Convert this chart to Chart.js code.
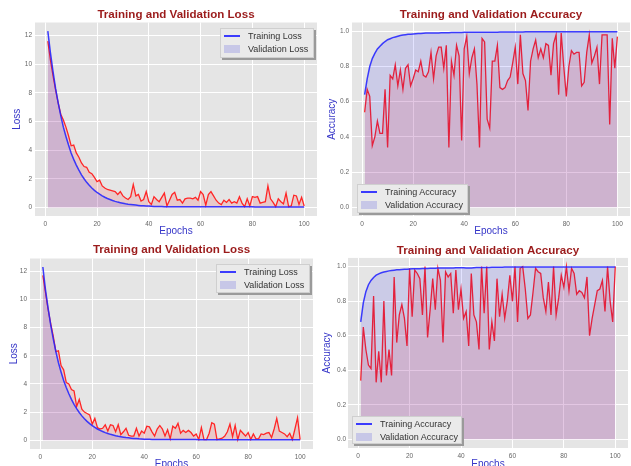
<!DOCTYPE html>
<html><head><meta charset="utf-8">
<script src="https://cdn.jsdelivr.net/npm/chart.js@4.4.0/dist/chart.umd.min.js"></script>
<style>
html,body{margin:0;padding:0;background:#fff;width:631px;height:466px;overflow:hidden;font-family:"Liberation Sans",Arial,sans-serif;}
.panel{position:absolute;overflow:hidden;background:#fff;}
.legend{position:absolute;background:#EAEAEA;border:1px solid #cfcfcf;box-shadow:2px 2px 0 #9a9a9a;font-size:9px;color:#333;box-sizing:border-box;}
.row{position:absolute;left:0;height:12px;line-height:12px;white-space:nowrap;}
.hline{position:absolute;left:3px;top:5px;width:16px;height:2px;background:rgba(40,40,255,0.9);}
.patch{position:absolute;left:3px;top:2px;width:16px;height:8px;background:rgba(120,120,225,0.3);}
.txt{position:absolute;left:27px;top:0;}
</style></head>
<body>
<script>
const epochs = Array.from({length:100},(_,i)=>i+1);
const xTicks = [0,20,40,60,80,100];
const xTickLabels = ['0','20','40','60','80','100'];
const lossTicks = [0,2,4,6,8,10,12];
const lossTickLabels = ['0','2','4','6','8','10','12'];
const accTicks = [0,0.2,0.4,0.6,0.8,1.0];
const accTickLabels = ['0.0','0.2','0.4','0.6','0.8','1.0'];

const trainLoss1 = [12.3,10.8,9.5,8.3,7.3,6.4,5.6,4.95,4.35,3.8,3.35,2.95,2.6,2.27,2.0,1.75,1.54,1.35,1.19,1.04,0.92,0.81,0.71,0.62,0.55,0.48,0.42,0.37,0.33,0.29,0.25,0.22,0.2,0.18,0.16,0.14,0.12,0.11,0.1,0.09,0.08,0.07,0.07,0.06,0.06,0.05,0.05,0.05,0.05,0.05,0.05,0.05,0.05,0.05,0.05,0.05,0.05,0.05,0.05,0.05,0.04,0.04,0.04,0.04,0.04,0.04,0.04,0.04,0.04,0.04,0.04,0.04,0.04,0.04,0.04,0.04,0.04,0.04,0.04,0.04,0.03,0.03,0.03,0.03,0.03,0.03,0.03,0.03,0.03,0.03,0.03,0.03,0.03,0.03,0.03,0.03,0.03,0.03,0.03,0.03];
const valLoss1 = [11.6,10.3,9.2,8.2,7.3,6.5,6.1,5.6,5.0,4.3,4.35,3.8,3.5,3.1,2.85,2.8,2.45,2.35,2.1,1.8,1.9,1.5,1.35,1.25,1.2,1.15,1.1,0.9,1.1,0.8,0.65,0.55,0.75,1.6,0.8,0.9,0.45,0.55,1.1,0.4,0.2,0.75,0.55,0.4,0.7,1.0,0.1,0.5,0.9,1.05,0.5,0.55,0.3,0.6,0.65,0.65,0.6,0.7,0.5,1.1,0.9,0.15,0.9,1.1,0.8,0.5,0.3,0.2,0.5,0.35,0.55,0.3,0.4,0.3,0.75,0.3,0.05,0.6,0.1,0.75,0.7,0.75,0.3,0.35,0.4,1.5,0.6,0.35,0.05,0.6,0.4,0.25,1.0,0.05,0.1,0.85,0.8,0.2,0.7,0.1];
const trainAcc1 = [0.64,0.73,0.80,0.845,0.875,0.9,0.915,0.93,0.942,0.952,0.958,0.964,0.968,0.972,0.976,0.979,0.981,0.983,0.984,0.985,0.986,0.987,0.988,0.989,0.99,0.99,0.99,0.991,0.991,0.991,0.992,0.992,0.992,0.992,0.993,0.993,0.993,0.993,0.993,0.994,0.994,0.994,0.994,0.994,0.994,0.995,0.995,0.995,0.995,0.995,0.995,0.995,0.995,0.996,0.996,0.996,0.996,0.996,0.996,0.996,0.996,0.996,0.996,0.997,0.997,0.997,0.997,0.997,0.997,0.997,0.997,0.997,0.997,0.997,0.997,0.997,0.997,0.997,0.997,0.997,0.998,0.998,0.998,0.998,0.998,0.998,0.998,0.998,0.998,0.998,0.998,0.998,0.998,0.998,0.998,0.998,0.998,0.998,0.998,0.998];
const valAcc1 = [0.54,0.67,0.63,0.35,0.40,0.49,0.42,0.42,0.67,0.34,0.75,0.73,0.81,0.69,0.78,0.67,0.79,0.81,0.69,0.73,0.78,0.77,0.83,0.75,0.74,0.77,0.88,0.73,0.86,0.91,0.91,0.79,0.92,0.34,0.83,0.75,0.92,0.86,0.38,0.90,0.97,0.76,0.85,0.90,0.70,0.34,0.96,0.94,0.50,0.45,0.83,0.83,0.92,0.68,0.67,0.68,0.72,0.74,0.82,0.91,0.70,0.98,0.76,0.72,0.55,0.83,0.90,0.95,0.85,0.90,0.85,0.93,0.92,0.75,0.93,0.98,0.64,0.99,0.80,0.63,0.80,0.89,0.87,0.88,0.88,0.69,0.71,0.88,0.98,0.82,0.86,0.91,0.70,0.98,0.98,0.98,0.47,0.96,0.79,0.97];

const trainLoss2 = [12.3,10.7,9.4,8.2,7.2,6.3,5.5,4.85,4.25,3.75,3.3,2.9,2.55,2.25,1.97,1.73,1.52,1.34,1.18,1.04,0.91,0.8,0.7,0.62,0.54,0.48,0.42,0.37,0.32,0.28,0.25,0.22,0.19,0.17,0.15,0.13,0.12,0.1,0.09,0.08,0.07,0.07,0.06,0.06,0.05,0.05,0.05,0.05,0.05,0.05,0.05,0.05,0.05,0.05,0.05,0.05,0.05,0.05,0.05,0.05,0.04,0.04,0.04,0.04,0.04,0.04,0.04,0.04,0.04,0.04,0.04,0.04,0.04,0.04,0.04,0.04,0.04,0.04,0.04,0.04,0.03,0.03,0.03,0.03,0.03,0.03,0.03,0.03,0.03,0.03,0.03,0.03,0.03,0.03,0.03,0.03,0.03,0.03,0.03,0.03];
const valLoss2 = [11.7,10.5,9.3,8.3,7.4,6.3,6.35,5.3,5.0,4.1,4.0,3.6,3.5,2.4,2.9,2.2,2.0,1.9,1.8,1.15,1.55,0.9,0.8,0.85,1.1,0.65,1.1,1.05,0.6,1.1,0.4,0.6,0.85,0.35,0.3,0.3,0.85,0.3,0.65,0.5,1.0,0.95,0.6,0.3,0.8,1.05,0.8,0.3,0.75,0.1,1.0,0.85,1.2,0.5,0.7,0.55,0.7,0.55,0.3,0.45,0.05,0.9,0.05,0.05,0.5,1.25,1.15,0.05,0.1,0.15,0.3,0.6,1.15,0.25,1.05,0.05,0.7,0.5,0.3,0.55,0.05,0.45,0.1,0.1,0.45,0.4,0.5,0.55,0.2,0.8,1.55,0.65,0.55,0.45,0.25,0.5,0.05,0.8,1.6,0.05];
const trainAcc2 = [0.68,0.79,0.855,0.895,0.92,0.937,0.95,0.958,0.964,0.969,0.972,0.975,0.977,0.979,0.981,0.982,0.983,0.984,0.985,0.986,0.987,0.987,0.988,0.988,0.989,0.989,0.989,0.99,0.99,0.99,0.991,0.991,0.991,0.992,0.992,0.992,0.992,0.993,0.993,0.993,0.993,0.992,0.991,0.992,0.993,0.994,0.994,0.995,0.995,0.995,0.995,0.996,0.996,0.996,0.996,0.996,0.997,0.997,0.997,0.997,0.997,0.997,0.997,0.997,0.997,0.997,0.997,0.997,0.997,0.997,0.998,0.998,0.998,0.998,0.998,0.998,0.998,0.998,0.998,0.998,0.998,0.998,0.998,0.998,0.998,0.998,0.998,0.998,0.998,0.998,0.998,0.998,0.998,0.998,0.998,0.998,0.998,0.998,0.998,0.998];
const valAcc2 = [0.34,0.65,0.52,0.43,0.41,0.83,0.33,0.51,0.33,0.80,0.37,0.52,0.37,0.94,0.56,0.72,0.78,0.70,0.54,0.99,0.71,0.98,0.96,0.93,0.72,1.00,0.59,0.75,0.93,0.75,0.99,0.92,0.56,0.97,0.94,0.96,0.73,0.98,0.75,0.87,0.70,0.74,0.54,0.96,0.72,0.68,0.52,1.00,0.73,1.00,0.52,0.68,0.57,0.93,0.71,0.84,0.70,0.80,0.95,0.80,1.00,0.68,0.99,1.00,0.87,0.70,0.72,0.85,0.99,0.97,0.96,0.82,0.74,0.91,0.72,1.00,0.72,0.82,0.95,0.88,1.00,0.86,0.99,0.96,0.84,0.86,0.85,0.82,0.94,0.60,0.70,0.78,0.86,0.87,0.92,0.74,1.00,0.80,0.68,1.00];

const FONT = '"Liberation Sans", Arial, sans-serif';
const bgPlugin = {id:'plotbg', beforeDraw(chart){const a=chart.chartArea;const c=chart.ctx;c.save();c.fillStyle='#E5E5E5';c.fillRect(a.left,a.top,a.right-a.left,a.bottom-a.top);c.restore();}};

function pts(vals){return epochs.map((e,i)=>({x:e,y:vals[i]}));}

function panel(p){
  const div=document.createElement('div');div.className='panel';
  div.style.left=p.left+'px';div.style.top=p.top+'px';div.style.width=p.w+'px';div.style.height=p.h+'px';
  const cv=document.createElement('canvas');cv.width=p.w;cv.height=245;cv.style.width=p.w+'px';cv.style.height='245px';
  div.appendChild(cv);document.body.appendChild(div);
  new Chart(cv,{type:'line',
    data:{datasets:[
      {label:p.l1,data:pts(p.train),borderColor:'rgba(35,35,255,0.88)',backgroundColor:'rgba(0,0,255,0.11)',fill:'origin',borderWidth:1.5,pointRadius:0,tension:0},
      {label:p.l2,data:pts(p.val),borderColor:'#ff2626',backgroundColor:'rgba(255,0,0,0.12)',fill:'origin',borderWidth:1.3,pointRadius:0,tension:0}
    ]},
    options:{responsive:false,animation:false,devicePixelRatio:1,
      layout:{padding:{left:0,right:p.padR,top:0,bottom:0}},
      plugins:{legend:{display:false},tooltip:{enabled:false},
        title:{display:true,text:p.title,color:'#9B1B1B',fullSize:false,font:{family:FONT,size:11.6,weight:'bold'},padding:{top:p.tpT,bottom:p.tpB}}},
      scales:{
        x:{type:'linear',min:-3.95,max:104.95,
          afterBuildTicks:s=>{s.ticks=xTicks.map(v=>({value:v}));},
          afterFit:s=>{s.height=p.xh;},
          grid:{color:'#ffffff',lineWidth:1,drawTicks:false},border:{display:false},
          ticks:{autoSkip:false,maxRotation:0,padding:4,color:'#666',font:{family:FONT,size:6.5},callback:(v,i)=>xTickLabels[i]},
          title:{display:true,text:'Epochs',color:'#3636c8',font:{family:FONT,size:10},padding:{top:0,bottom:p.xtB}}},
        y:{type:'linear',min:p.ymin,max:p.ymax,
          afterBuildTicks:s=>{s.ticks=p.yt.map(v=>({value:v}));},
          afterFit:s=>{s.width=p.yw;},
          grid:{color:'#ffffff',lineWidth:1,drawTicks:false},border:{display:false},
          ticks:{autoSkip:false,padding:p.ytp,color:'#666',font:{family:FONT,size:6.5},callback:(v,i)=>p.ytl[i]},
          title:{display:true,text:p.ylabel,color:'#3636c8',font:{family:FONT,size:10},padding:{top:p.ytT,bottom:0}}}
      }},
    plugins:[bgPlugin]});
  const lg=document.createElement('div');lg.className='legend';
  lg.style.left=(p.lg[0]-p.left)+'px';lg.style.top=(p.lg[1]-p.top)+'px';lg.style.width=p.lg[2]+'px';lg.style.height=p.lg[3]+'px';
  lg.innerHTML='<div class="row" style="top:1px"><div class="hline"></div><div class="txt">'+p.l1+'</div></div>'+
               '<div class="row" style="top:14px"><div class="patch"></div><div class="txt">'+p.l2+'</div></div>';
  div.appendChild(lg);
}

panel({left:0,top:0,w:320,h:236,title:'Training and Validation Loss',train:trainLoss1,val:valLoss1,l1:'Training Loss',l2:'Validation Loss',
  ymin:-0.6,ymax:12.9,yt:lossTicks,ytl:lossTickLabels,ylabel:'Loss',padR:3,yw:35,xh:29,xtB:8,ytT:11,ytp:3,tpT:7.8,tpB:0.8,lg:[220,28,94,30]});
panel({left:320,top:0,w:311,h:236,title:'Training and Validation Accuracy',train:trainAcc1,val:valAcc1,l1:'Training Accuracy',l2:'Validation Accuracy',
  ymin:-0.05,ymax:1.05,yt:accTicks,ytl:accTickLabels,ylabel:'Accuracy',padR:1,yw:32,xh:29,xtB:8,ytT:6.5,ytp:3,tpT:7.8,tpB:0.8,lg:[357,184,111,29]});
panel({left:0,top:236,w:320,h:230,title:'Training and Validation Loss',train:trainLoss2,val:valLoss2,l1:'Training Loss',l2:'Validation Loss',
  ymin:-0.62,ymax:12.9,yt:lossTicks,ytl:lossTickLabels,ylabel:'Loss',padR:7,yw:30,xh:32,xtB:11,ytT:8.3,ytp:3,tpT:7.1,tpB:1.5,lg:[216,264,94,29]});
panel({left:320,top:236,w:311,h:230,title:'Training and Validation Accuracy',train:trainAcc2,val:valAcc2,l1:'Training Accuracy',l2:'Validation Accuracy',
  ymin:-0.05,ymax:1.05,yt:accTicks,ytl:accTickLabels,ylabel:'Accuracy',padR:3,yw:28,xh:33,xtB:11,ytT:1.5,ytp:2,tpT:7.5,tpB:0.5,lg:[352,416,110,28]});
</script>
</body></html>
